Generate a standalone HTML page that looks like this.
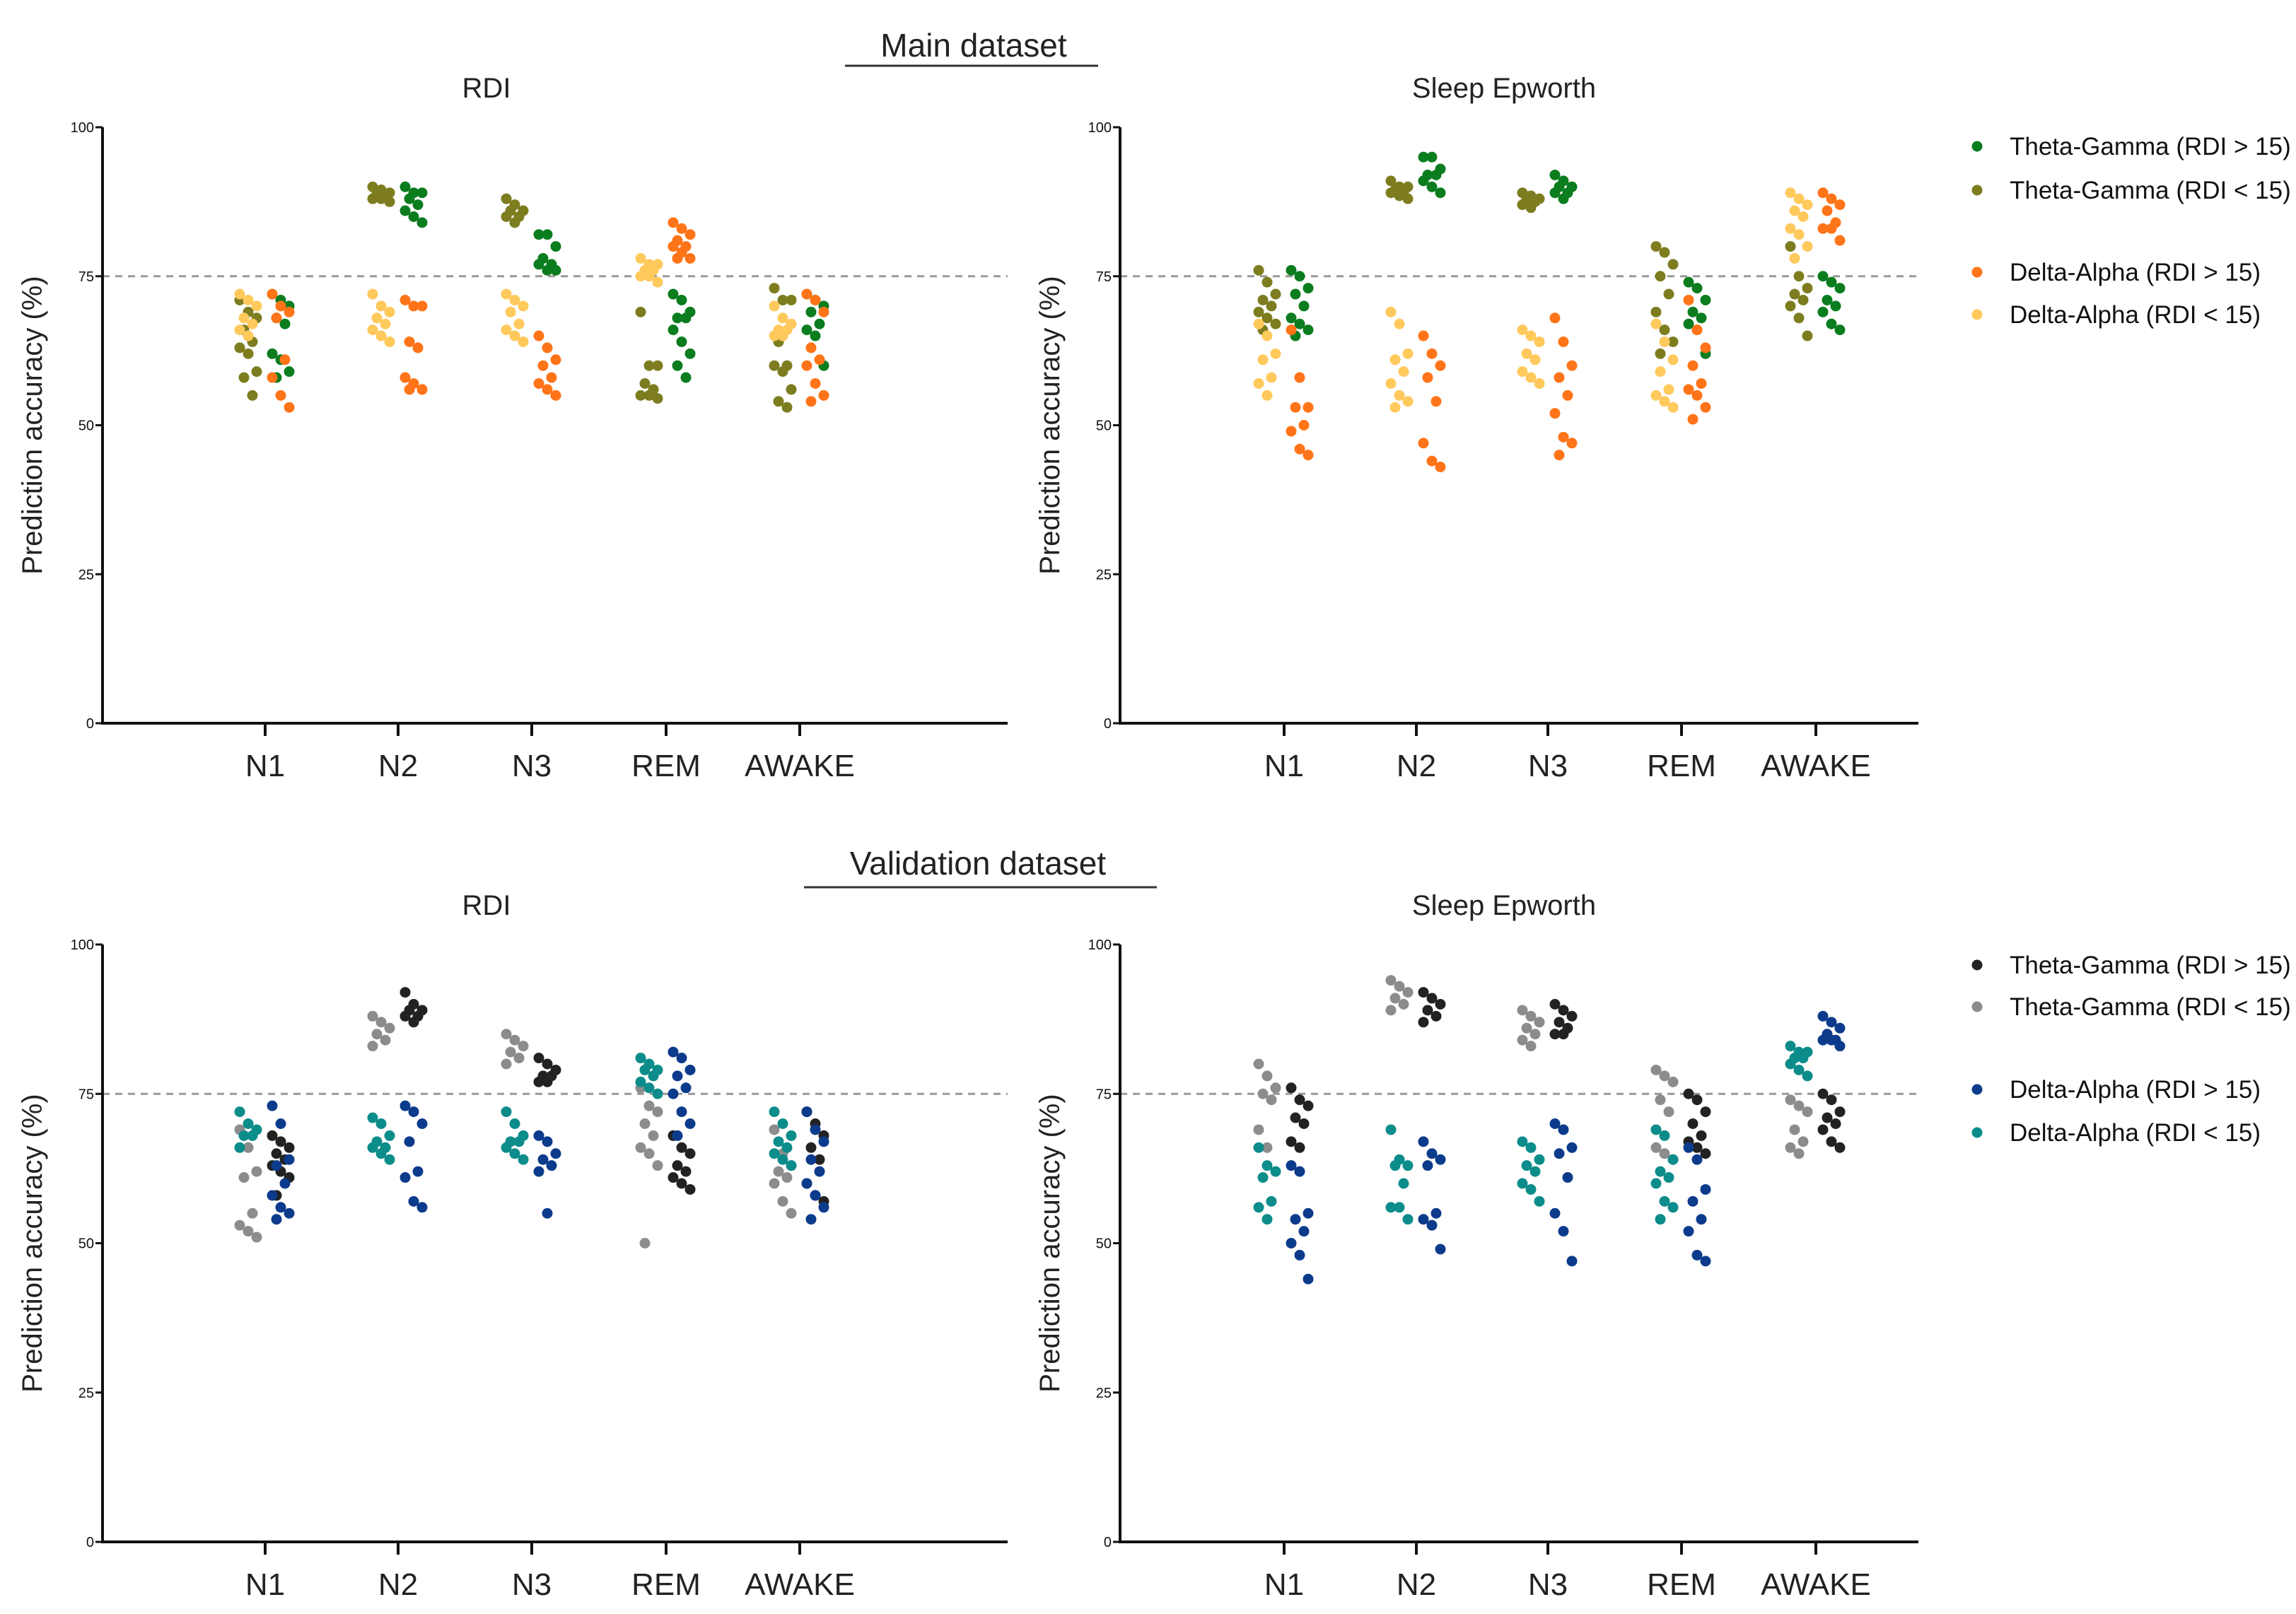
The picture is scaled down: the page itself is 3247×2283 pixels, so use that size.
<!DOCTYPE html>
<html><head><meta charset="utf-8"><style>
html,body{margin:0;padding:0;background:#fff;}
svg{display:block;font-family:"Liberation Sans",sans-serif;}
</style></head><body>
<svg id="chart" width="3247" height="2283" viewBox="0 0 3247 2283" xmlns="http://www.w3.org/2000/svg"></svg>
<script>
const categories = ["N1","N2","N3","REM","AWAKE"];
const yTicks = [0,25,50,75,100];
const seriesMainNames = ["Theta-Gamma (RDI > 15)","Theta-Gamma (RDI < 15)","Delta-Alpha (RDI > 15)","Delta-Alpha (RDI < 15)"];
// order per category: [TG>15, TG<15, DA>15, DA<15]
const mainRDI = [
 [[72,71,70,68,67,62,61,59,58],[71,69,68,66,64,63,62,59,58,55],[72,70,69,68,61,58,55,53],[72,71,70,68,67,66,65]],
 [[90,89,89,88,87,86,85,84],[90,89.5,89,89,88.5,88,88,87.5],[71,70,70,64,63,58,57,56,56],[72,70,69,68,67,66,65,64]],
 [[82,82,80,78,77,77,76,76],[88,87,86,86,85,85,84],[65,63,61,60,58,57,56,55],[72,71,70,69,67,66,65,64]],
 [[72,71,69,68,68,66,64,62,60,58],[69,60,60,57,56,55,55,54.5],[84,83,82,81,80,80,79,78,78],[78,77,77,76,76,75,75,74]],
 [[72,71,70,69,67,66,65,60],[73,71,71,64,60,60,59,56,54,53],[72,71,69,63,61,60,57,55,54],[70,68,67,66,66,65,65]]
];
const mainEpw = [
 [[76,75,73,72,70,68,67,66,65],[76,74,72,71,70,69,68,67,66],[66,58,53,53,50,49,46,45],[67,65,62,61,58,57,55]],
 [[95,95,93,92,92,91,90,89],[91,90,90,89.5,89,89,88.5,88],[65,62,60,58,54,47,44,43],[69,67,62,61,59,57,55,54,53]],
 [[92,91,90,90,89,89,88],[89,88.5,88,88,87.5,87,86.5],[68,64,60,58,55,52,48,47,45],[66,65,64,62,61,59,58,57]],
 [[74,73,71,69,68,67,66,62],[80,79,77,75,72,69,66,64,62],[71,66,63,60,57,56,55,53,51],[67,64,61,59,56,55,54,53]],
 [[75,74,73,71,70,69,67,66],[80,75,73,72,71,70,68,65],[89,88,87,86,84,83,83,81],[89,88,87,86,85,83,82,80,78]]
];
const valRDI = [
 [[68,67,66,65,64,63,62,61,58],[69,66,62,61,55,53,52,51],[73,70,64,63,60,58,56,55,54],[72,70,69,68,68,66]],
 [[92,90,89,89,88,88,87],[88,87,86,85,84,83],[73,72,70,67,62,61,57,56],[71,70,68,67,66,66,65,64]],
 [[81,80,79,78,78,77,77],[85,84,83,82,81,80],[68,67,65,64,63,62,55],[72,70,68,67,67,66,65,64]],
 [[68,66,65,63,62,61,60,59],[76,73,72,70,68,66,65,63,50],[82,81,79,78,76,75,72,70,68],[81,80,79,79,78,77,76,75]],
 [[72,70,68,66,64,60,58,57],[69,65,63,62,61,60,57,55],[72,69,67,64,62,60,58,56,54],[72,70,68,67,66,65,64,63]]
];
const valEpw = [
 [[76,74,73,71,70,67,66],[80,78,76,75,74,69,66],[63,62,55,54,52,50,48,44],[66,63,62,61,57,56,54]],
 [[92,91,90,89,88,87],[94,93,92,91,90,89],[67,65,64,63,55,54,53,49],[69,64,63,63,60,56,56,54]],
 [[90,89,88,87,86,85,85],[89,88,87,86,85,84,83],[70,69,66,65,61,55,52,47],[67,66,64,63,62,60,59,57]],
 [[75,74,72,70,68,67,66,65],[79,78,77,74,72,66,65,64],[66,64,59,57,54,52,48,47],[69,68,64,62,61,60,57,56,54]],
 [[75,74,72,71,70,69,67,66],[74,73,72,69,67,66,65],[88,87,86,85,84,84,84,83],[83,82,82,81,81,80,79,78]]
];
const mainColors = ["#0b7d1f","#7d7d20","#ff7418","#ffc95c"];
const valColors = ["#222222","#8c8c8c","#0c3b8c","#0c8c8a"];

const svg = document.getElementById('chart');
const NS = "http://www.w3.org/2000/svg";
function mk(tag, attrs, parent){const e=document.createElementNS(NS,tag);for(const k in attrs)e.setAttribute(k,attrs[k]);(parent||svg).appendChild(e);return e;}
function txt(s, attrs, parent){const e=mk('text',attrs,parent);e.textContent=s;return e;}

let h=txt("Main dataset",{x:1377,y:80,'font-size':46,'text-anchor':'middle',fill:'#222'});


let l=mk('line',{x1:1195,x2:1553,y1:93,y2:93,stroke:'#333','stroke-width':3});


h=txt("Validation dataset",{x:1383,y:1237,'font-size':46,'text-anchor':'middle',fill:'#222'});


l=mk('line',{x1:1137,x2:1636,y1:1255,y2:1255,stroke:'#333','stroke-width':3});



function panel(name, title, ax, axEnd, ticksX, yTop, yBot, data, colors){
  const g=mk('g',{});
  
  
  const y=v=>yBot-(v/100)*(yBot-yTop);
  const t=txt(title,{x:ax+543,y:yTop-42,'font-size':40,'text-anchor':'middle',fill:'#222'},g);
  
  
  const yl=txt("Prediction accuracy (%)",{x:0,y:0,'font-size':40,'text-anchor':'middle',fill:'#222',transform:`translate(${ax-86},${(yTop+yBot)/2}) rotate(-90)`},g);
  
  
  const ref=mk('line',{x1:ax,x2:axEnd,y1:y(75),y2:y(75),stroke:'#999','stroke-width':3,'stroke-dasharray':'10,8'},g);
  
  
  const yaxis=mk('line',{x1:ax,x2:ax,y1:yTop,y2:yBot+2,stroke:'#111','stroke-width':4},g);
  
  
  const xaxis=mk('line',{x1:ax-2,x2:axEnd,y1:yBot,y2:yBot,stroke:'#111','stroke-width':4},g);
  
  
  yTicks.forEach(v=>{
    const tk=mk('line',{x1:ax-10,x2:ax,y1:y(v),y2:y(v),stroke:'#111','stroke-width':3},g);
    
    
    const tl=txt(String(v),{x:ax-12,y:y(v)+7,'font-size':20,'text-anchor':'end',fill:'#111'},g);
    
    
  });
  categories.forEach((c,i)=>{
    const cx=ticksX[i];
    const tk=mk('line',{x1:cx,x2:cx,y1:yBot,y2:yBot+18,stroke:'#111','stroke-width':4},g);
    
    
    const tl=txt(c,{x:cx,y:yBot+75,'font-size':44,'text-anchor':'middle',fill:'#222'},g);
    
    
    [1,3,0,2].forEach(s=>{
      const side = (s%2===1)?-24:22;
      data[i][s].forEach((v,k)=>{
        const jit=((k*7)%5-2)*6;
        const d=mk('circle',{cx:cx+side+jit,cy:y(v),r:7.5,fill:colors[s]},g);
        
        
      });
    });
  });
}
function legend(x, ys, colors){
  seriesMainNames.forEach((n,i)=>{
    const c=mk('circle',{cx:x,cy:ys[i],r:7.5,fill:colors[i]});
    
    
    const t=txt(n,{x:x+46,y:ys[i]+12,'font-size':35,fill:'#111'});
    
    
  });
}
panel('main-rdi-panel','RDI',145,1425,[375,563,752,942,1131],180,1023,mainRDI,mainColors);
panel('main-epworth-panel','Sleep Epworth',1584,2713,[1816,2003,2189,2378,2568],180,1023,mainEpw,mainColors);
panel('validation-rdi-panel','RDI',145,1425,[375,563,752,942,1131],1336,2181,valRDI,valColors);
panel('validation-epworth-panel','Sleep Epworth',1584,2713,[1816,2003,2189,2378,2568],1336,2181,valEpw,valColors);
legend(2796,[207,269,385,445],mainColors);
legend(2796,[1365,1424,1541,1602],valColors);
</script>
</body></html>
